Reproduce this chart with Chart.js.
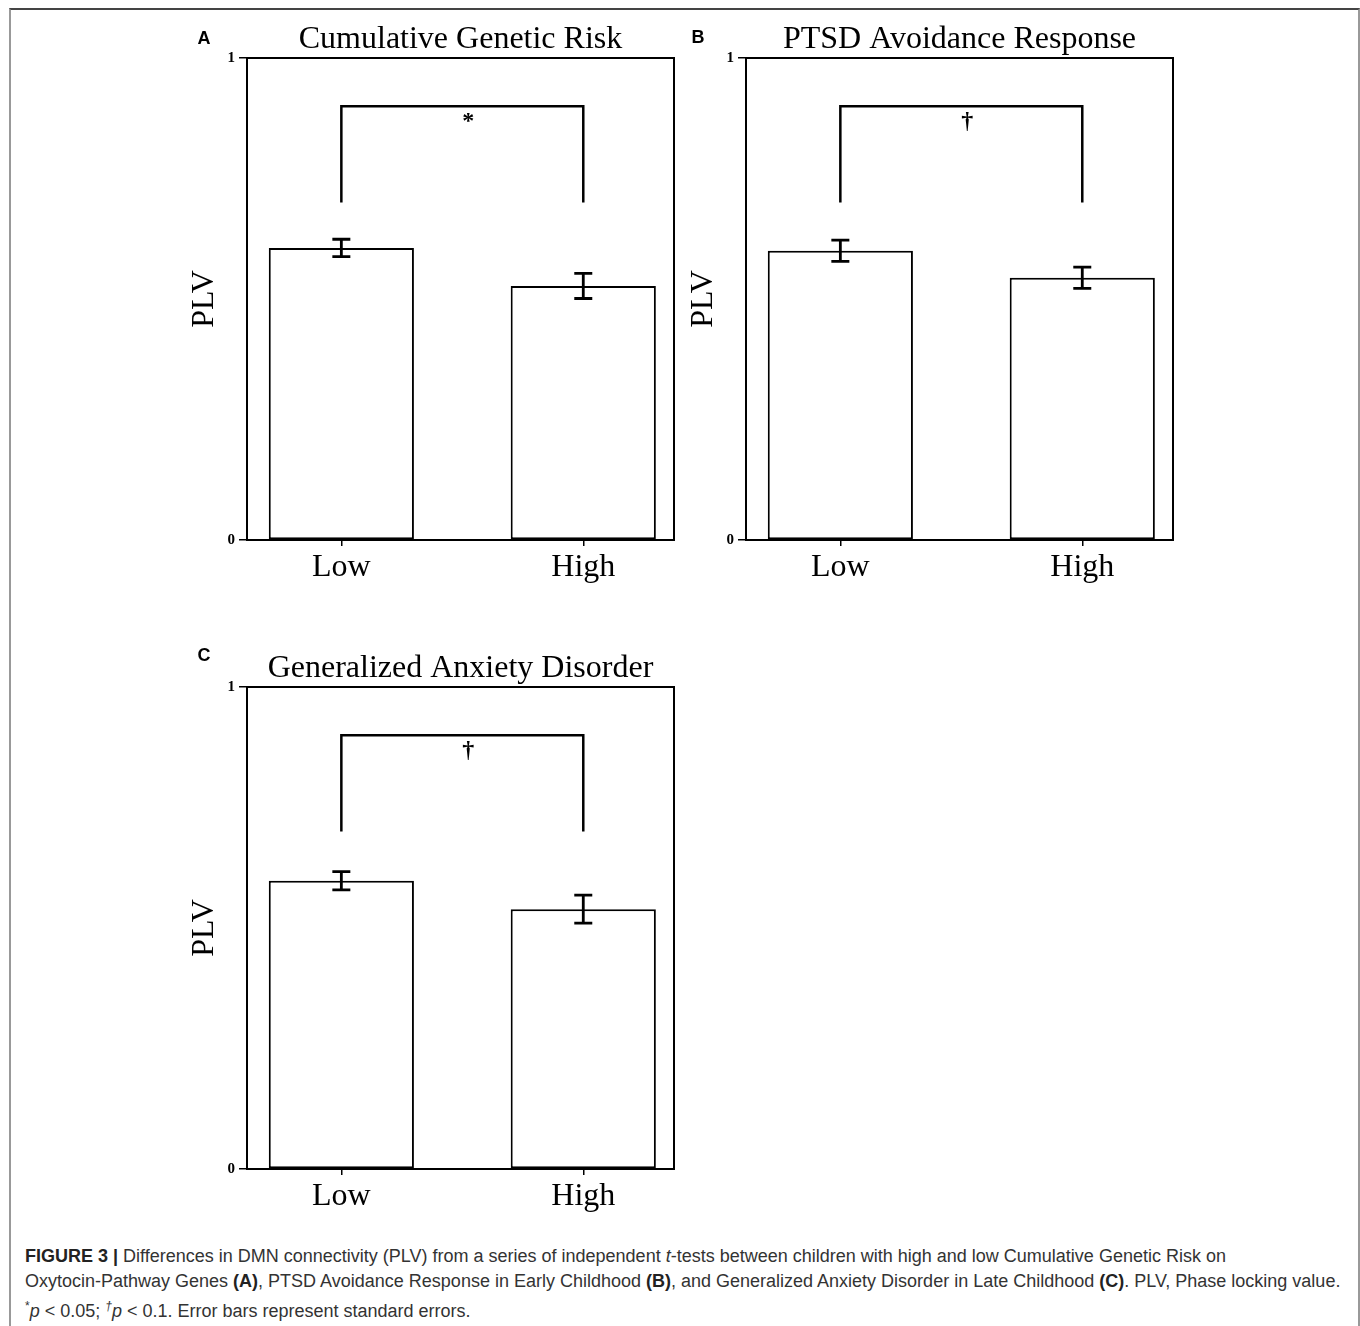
<!DOCTYPE html>
<html>
<head>
<meta charset="utf-8">
<script src="https://cdn.jsdelivr.net/npm/chart.js@4.4.1/dist/chart.umd.min.js"></script>
<style>
html, body { margin: 0; padding: 0; width: 1360px; height: 1326px; overflow: hidden; background: #fff; }
#frame { position: absolute; left: 9px; top: 8px; width: 1347px; height: 1330px;
  border-top: 2px solid #444; border-left: 2px solid #999; border-right: 2px solid #999; }
canvas { position: absolute; }
#caption { position: absolute; left: 25px; top: 1244px; font: 18px 'Liberation Sans', Arial, sans-serif;
  color: #333; line-height: 25px; white-space: nowrap; }
#caption b { color: #222; }
</style>
</head>
<body>
<div id="frame"></div>
<canvas id="panelA" width="545" height="600" style="left:137px;top:8px"></canvas>
<canvas id="panelB" width="545" height="600" style="left:636px;top:8px"></canvas>
<canvas id="panelC" width="545" height="600" style="left:137px;top:637px"></canvas>
<div id="caption">
<b>FIGURE 3 |</b> Differences in DMN connectivity (PLV) from a series of independent <i>t</i>-tests between children with high and low Cumulative Genetic Risk on<br>
Oxytocin-Pathway Genes <b>(A)</b>, PTSD Avoidance Response in Early Childhood <b>(B)</b>, and Generalized Anxiety Disorder in Late Childhood <b>(C)</b>. PLV, Phase locking value.<br>
<sup style="font-size:12px">*</sup><i>p</i> &lt; 0.05; <sup style="font-size:12px"><i>†</i></sup><i>p</i> &lt; 0.1. Error bars represent standard errors.
</div>
<script>
// data
const groups = ['Low', 'High'];
const groupPos = [0, 1];
const panelTitles = ['Cumulative Genetic Risk', 'PTSD Avoidance Response', 'Generalized Anxiety Disorder'];
const panelLetters = ['A', 'B', 'C'];
const meanA = [0.606, 0.527];
const meanB = [0.600, 0.544];
const meanC = [0.598, 0.539];
const seA = [0.018, 0.026];
const seB = [0.022, 0.022];
const seC = [0.019, 0.029];
const sigMarks = ['*', '†', '†'];
const bracketFoot = 0.70;
const bracketTop = 0.90;
const sigMarkY = 0.855;
const yTicks = [0, 1];

// where the letter sits relative to the plot's top-left corner
const letterOffsets = [[-43, -19], [-48, -20], [-43, -31]];

const serif = "'Liberation Serif', 'Times New Roman', serif";

// box around the plot, error bars, title, letter and significance mark
const decoPlugin = {
  id: 'panelDeco',
  afterDatasetsDraw(chart, args, opts) {
    const ctx = chart.ctx;
    const a = chart.chartArea;
    const xs = chart.scales.x, ys = chart.scales.y;
    ctx.save();
    ctx.strokeStyle = '#000';
    ctx.lineWidth = 2;
    ctx.strokeRect(a.left, a.top, a.right - a.left, a.bottom - a.top);

    ctx.lineWidth = 2.8;
    opts.means.forEach((m, i) => {
      const x = xs.getPixelForValue(groupPos[i]);
      const y1 = ys.getPixelForValue(m + opts.errs[i]);
      const y2 = ys.getPixelForValue(m - opts.errs[i]);
      ctx.beginPath();
      ctx.moveTo(x, y1); ctx.lineTo(x, y2);
      ctx.moveTo(x - 9, y1); ctx.lineTo(x + 9, y1);
      ctx.moveTo(x - 9, y2); ctx.lineTo(x + 9, y2);
      ctx.stroke();
    });

    ctx.fillStyle = '#000';
    ctx.textAlign = 'center';
    ctx.textBaseline = 'alphabetic';
    ctx.font = 'bold 24px ' + serif;
    ctx.fillText(opts.mark, xs.getPixelForValue(0.525), ys.getPixelForValue(sigMarkY));

    ctx.font = '32px ' + serif;
    ctx.fillText(opts.title, (a.left + a.right) / 2, a.top - 10);

    ctx.font = "bold 18px 'Liberation Sans', Arial, sans-serif";
    ctx.textBaseline = 'middle';
    ctx.fillText(opts.letter, a.left + opts.letterOffset[0], a.top + opts.letterOffset[1]);
    ctx.restore();
  }
};

function drawPanel(canvasId, idx, means, errs) {
  const ctx = document.getElementById(canvasId).getContext('2d');
  new Chart(ctx, {
    type: 'bar',
    data: {
      datasets: [
        {
          type: 'line',
          data: [
            { x: groupPos[0], y: bracketFoot }, { x: groupPos[0], y: bracketTop },
            { x: groupPos[1], y: bracketTop }, { x: groupPos[1], y: bracketFoot }
          ],
          borderColor: '#000',
          borderWidth: 2.5,
          pointRadius: 0,
          tension: 0,
          fill: false
        },
        {
          type: 'bar',
          data: means.map((m, i) => ({ x: groupPos[i], y: m })),
          backgroundColor: '#fff',
          borderColor: '#000',
          borderWidth: 2,
          borderSkipped: false,
          barPercentage: 0.6,
          categoryPercentage: 1
        }
      ]
    },
    options: {
      responsive: false,
      animation: false,
      devicePixelRatio: 1,
      layout: { padding: { top: 50, right: 8, bottom: 8, left: 0 } },
      plugins: {
        legend: { display: false },
        tooltip: { enabled: false },
        panelDeco: {
          title: panelTitles[idx],
          letter: panelLetters[idx],
          letterOffset: letterOffsets[idx],
          mark: sigMarks[idx],
          means: means,
          errs: errs
        }
      },
      scales: {
        x: {
          type: 'linear',
          offset: false,
          min: -0.39,
          max: 1.375,
          afterBuildTicks(scale) { scale.ticks = groupPos.map(v => ({ value: v })); },
          afterFit(scale) { scale.height = 60; },
          ticks: {
            color: '#000',
            padding: 2,
            font: { family: serif, size: 32 },
            callback: (v) => groups[groupPos.indexOf(v)]
          },
          grid: { offset: false, drawOnChartArea: false, color: '#000', lineWidth: 1.5, tickLength: 6 },
          border: { display: true, color: '#000', width: 2 }
        },
        y: {
          min: 0,
          max: 1,
          afterBuildTicks(scale) { scale.ticks = yTicks.map(v => ({ value: v })); },
          afterFit(scale) { scale.width = 110; },
          ticks: {
            color: '#000',
            padding: 4,
            font: { family: serif, size: 15, weight: 'bold' }
          },
          grid: { drawOnChartArea: false, color: '#000', lineWidth: 1.5, tickLength: 8 },
          border: { display: true, color: '#000', width: 2 },
          title: {
            display: true,
            text: 'PLV',
            color: '#000',
            font: { family: serif, size: 32 },
            padding: { top: 48, bottom: 0 }
          }
        }
      }
    },
    plugins: [decoPlugin]
  });
}

drawPanel('panelA', 0, meanA, seA);
drawPanel('panelB', 1, meanB, seB);
drawPanel('panelC', 2, meanC, seC);
</script>
</body>
</html>
